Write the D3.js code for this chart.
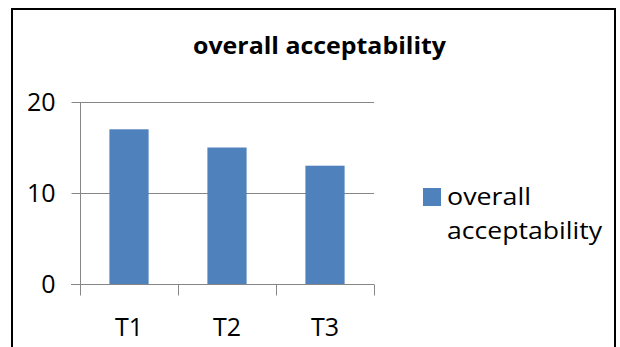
<!DOCTYPE html>
<html>
<head>
<meta charset="utf-8">
<script src="https://cdn.jsdelivr.net/npm/d3@7"></script>
<style>
  html, body { margin: 0; padding: 0; background: #fff; }
  svg { display: block; }
  text { font-family: "Open Sans", "Noto Sans", sans-serif; fill: #000; }
</style>
</head>
<body>
<svg id="chart" width="620" height="347"></svg>
<script>
// Chart data
const categories = ["T1", "T2", "T3"];
const seriesName = "overall acceptability";
const values = [17, 15, 13];
const yTicks = [0, 10, 20];
const titleText = "overall acceptability";
const legendLines = ["overall", "acceptability"];

const svg = d3.select("#chart");
const barColor = "#4F81BD";
const gridColor = "#868686";

// Chart frame
svg.append("rect")
  .attr("x", 12).attr("y", 9)
  .attr("width", 603).attr("height", 360)
  .attr("fill", "#fff")
  .attr("stroke", "#000")
  .attr("stroke-width", 2);

// Plot area
const plot = { left: 80, right: 374, top: 102, bottom: 284 };

const x = d3.scaleBand()
  .domain(categories)
  .range([plot.left, plot.right])
  .paddingInner(0.6)
  .paddingOuter(0.3);

const y = d3.scaleLinear()
  .domain([0, 20])
  .range([plot.bottom, plot.top]);

// Horizontal gridlines
svg.append("g")
  .selectAll("line")
  .data(yTicks.filter(d => d > 0))
  .join("line")
  .attr("x1", plot.left).attr("x2", plot.right)
  .attr("y1", d => Math.round(y(d)) + 0.5)
  .attr("y2", d => Math.round(y(d)) + 0.5)
  .attr("stroke", gridColor)
  .attr("stroke-width", 1);

// Bars
svg.append("g")
  .selectAll("rect")
  .data(values)
  .join("rect")
  .attr("x", (d, i) => x(categories[i]))
  .attr("y", d => y(d))
  .attr("width", x.bandwidth())
  .attr("height", d => y(0) - y(d))
  .attr("fill", barColor);

// Y axis
const yAxis = d3.axisLeft(y)
  .tickValues(yTicks)
  .tickSize(9)
  .tickPadding(16)
  .tickFormat(d3.format("d"));
const gy = svg.append("g")
  .attr("transform", `translate(${plot.left + 0.5},0)`)
  .call(yAxis);
gy.select(".domain").attr("stroke", gridColor).attr("d", `M0,${plot.top}V${plot.bottom}`);
gy.selectAll(".tick line").attr("stroke", gridColor);
gy.selectAll(".tick text")
  .attr("font-size", 25)
  .attr("font-family", "Open Sans")
  .attr("fill", "#000")
  .attr("dy", null)
  .attr("y", 8);

// X axis with tick marks at category boundaries
const gx = svg.append("g")
  .attr("transform", `translate(0,${Math.round(y(0)) + 0.5})`);
gx.append("line")
  .attr("x1", plot.left - 9).attr("x2", plot.right)
  .attr("stroke", gridColor);
const boundaries = categories.map(c => x(c) - x.step() * x.paddingInner() / 2)
  .concat([plot.right]);
boundaries[0] = plot.left;
gx.selectAll(".bnd")
  .data(boundaries)
  .join("line")
  .attr("class", "bnd")
  .attr("x1", d => Math.round(d) + 0.5).attr("x2", d => Math.round(d) + 0.5)
  .attr("y1", 0).attr("y2", 11)
  .attr("stroke", gridColor);
gx.selectAll("text")
  .data(categories)
  .join("text")
  .attr("x", d => x(d) + x.bandwidth() / 2)
  .attr("y", 51)
  .attr("text-anchor", "middle")
  .attr("font-size", 25)
  .text(d => d);

// Title
svg.append("text")
  .attr("x", 319.5).attr("y", 54)
  .attr("text-anchor", "middle")
  .attr("font-size", 24)
  .attr("font-weight", "bold")
  .attr("textLength", 253)
  .attr("lengthAdjust", "spacingAndGlyphs")
  .text(titleText);

// Legend
const legendWidths = [84, 155];
const lg = svg.append("g");
lg.append("rect")
  .attr("x", 423).attr("y", 188)
  .attr("width", 18).attr("height", 18)
  .attr("fill", barColor);
lg.selectAll("text")
  .data(legendLines)
  .join("text")
  .attr("x", 447)
  .attr("y", (d, i) => 205 + i * 34)
  .attr("font-size", 24)
  .attr("textLength", (d, i) => legendWidths[i])
  .attr("lengthAdjust", "spacingAndGlyphs")
  .text(d => d);
</script>
</body>
</html>
